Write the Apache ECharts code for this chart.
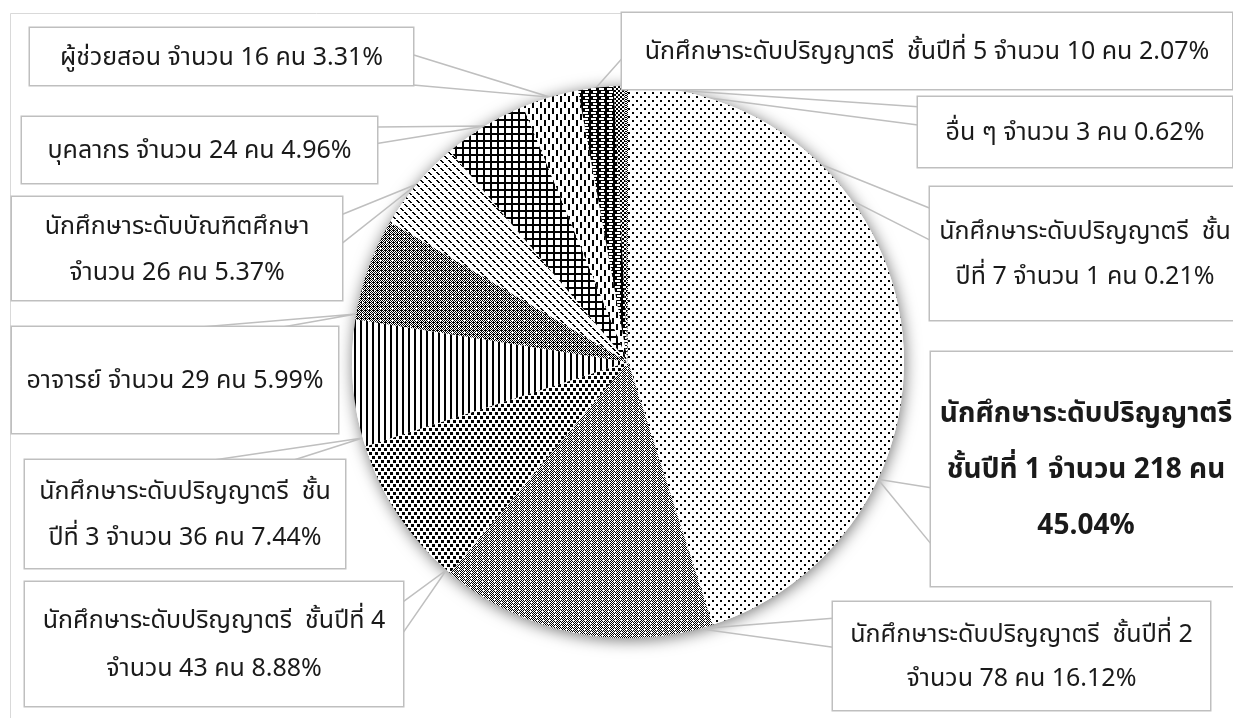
<!DOCTYPE html>
<html><head><meta charset="utf-8">
<script src="https://cdn.jsdelivr.net/npm/echarts@6/dist/echarts.min.js"></script>
<style>html,body{margin:0;padding:0;background:#fff}#c{width:1233px;height:718px}</style>
</head><body><div id="c"></div>
<script>
// ---- data (clockwise from 12 o'clock) ----
const categories = [
  'นักศึกษาระดับปริญญาตรี  ชั้นปีที่ 1',
  'นักศึกษาระดับปริญญาตรี  ชั้นปีที่ 2',
  'นักศึกษาระดับปริญญาตรี  ชั้นปีที่ 4',
  'นักศึกษาระดับปริญญาตรี  ชั้นปีที่ 3',
  'อาจารย์',
  'นักศึกษาระดับบัณฑิตศึกษา',
  'บุคลากร',
  'ผู้ช่วยสอน',
  'นักศึกษาระดับปริญญาตรี  ชั้นปีที่ 5',
  'อื่น ๆ',
  'นักศึกษาระดับปริญญาตรี  ชั้นปีที่ 7'
];
const counts = [218, 78, 43, 36, 29, 26, 24, 16, 10, 3, 1];

// ---- layout (positions / styles only) ----
const PIE_CENTER = [628, 362];
const PIE_R = 276;
const TEXT_SHIFT = 3;
const FONT = "'Noto Sans Thai','Leelawadee UI',Tahoma,'Noto Sans','DejaVu Sans',sans-serif";
const labelBoxes = [
  {box:[931,352,310,234], side:'left',  base:[0.58,0.82], apex:0.71, lh:56, fs:28, bold:true, breaks:['ชั้นปีที่','$pct']},
  {box:[833,602,377,108], side:'left',  base:[0.15,0.42], apex:0.05, lh:44, fs:25, breaks:['จำนวน']},
  {box:[25,582,378,124],  side:'right', base:[0.16,0.41], apex:0.03, lh:48, fs:25, breaks:['จำนวน']},
  {box:[25,460,320,108],  side:'top',   base:[0.59,0.84], apex:0.07, lh:46, fs:25, breaks:['ปีที่']},
  {box:[12,327,326,106],  side:'top',   base:[0.58,0.83], apex:0.05, lh:45, fs:25, breaks:[]},
  {box:[12,197,330,103],  side:'right', base:[0.17,0.45], apex:0.5,  lh:46, fs:25, breaks:['จำนวน']},
  {box:[22,117,355,66],   side:'right', base:[0.15,0.40], apex:0.5,  lh:42, fs:25, breaks:[]},
  {box:[30,28,383,57],    side:'right', base:[0.47,1.00], apex:0.5,  lh:42, fs:25, breaks:[]},
  {box:[622,13,610,76],   side:'left',  base:[0.60,0.98], apex:0.5,  lh:42, fs:25, breaks:[]},
  {box:[918,97,314,70],   side:'left',  base:[0.14,0.40], apex:0.5,  lh:42, fs:25, breaks:[]},
  {box:[930,187,310,133], side:'left',  base:[0.16,0.40], apex:0.5,  lh:45, fs:25, breaks:['ปีที่']}
];

// ---- patterns ----
function pat(rows){
  const h = rows.length, w = rows[0].length;
  const c = document.createElement('canvas'); c.width = w; c.height = h;
  const g = c.getContext('2d');
  g.fillStyle = '#fff'; g.fillRect(0,0,w,h); g.fillStyle = '#000';
  for (let y=0;y<h;y++) for (let x=0;x<w;x++) if (rows[y][x]==='X') g.fillRect(x,y,1,1);
  return {image:c, repeat:'repeat'};
}
function gridPattern(n, fn){
  const rows = [];
  for (let y=0;y<n;y++){ let r=''; for (let x=0;x<n;x++) r += fn(x,y) ? 'X' : '.'; rows.push(r); }
  return pat(rows);
}
const patterns = [
  pat(['XX......','XX......','........','........','....XX..','....XX..','........','........']),
  pat(['.X.X.X','X.X.X.','.X...X','X.X.X.','.X.X.X','X...X.']),
  pat(['XXX...','XXX...','XXX...','......','...XXX','...XXX','...XXX','......']),
  pat(['XX....']),
  gridPattern(12, (x,y)=>{
    if ((x===2&&y===2)||(x===8&&y===8)) return false;
    return (x+y)%2===0 || (x%4===1 && y%4===2);
  }),
  pat(['XX......','.XX.....','..XX....','........','....XX..','.....XX.','......XX','........']),
  pat(['XXXXXXX','XXXXXXX','XX.....','XX.....','XX.....','XX.....','XX.....']),
  pat(['XX......','XX......','XX......','XX......','XX......','XX......','....XX..','....XX..','....XX..','....XX..','....XX..','....XX..']),
  pat(['XXXXXXXX','X....XXX','X....XXX','XXXXXXXX','....XXX.','....XXX.']),
  pat(['XX..','XX..','..XX','..XX']),
  pat(['X..X','.XX.','X..X','.XX.'])
];

const total = counts.reduce((a,b)=>a+b,0);
const cum = []; counts.reduce((a,b,i)=>{cum[i]=a; return a+b;},0);

function labelText(i, pct){
  const L = labelBoxes[i];
  const pctStr = pct.toFixed(2) + '%';
  const full = categories[i] + ' จำนวน ' + counts[i] + ' คน ' + pctStr;
  const lines = [];
  let rest = full;
  L.breaks.forEach(b=>{
    const key = b === '$pct' ? pctStr : b;
    const k = rest.indexOf(key);
    if (k > 0){ lines.push(rest.slice(0,k).trim()); rest = rest.slice(k); }
  });
  lines.push(rest.trim());
  return lines.join('\n');
}

const data = counts.map((v,i)=>{
  const L = labelBoxes[i];
  const n = L.breaks.length + 1;
  const pt = (L.box[3] - n*L.lh)/2 + TEXT_SHIFT;
  return {
    name: categories[i], value: v,
    itemStyle: {color: patterns[i]},
    label: {
      width: L.box[2], padding:[pt,0,L.box[3]-n*L.lh-pt,0],
      lineHeight: L.lh, fontSize: L.fs, fontWeight: L.bold ? 'bold' : 'normal'
    }
  };
});

function polar(aDeg, r){
  const a = aDeg*Math.PI/180;
  return [PIE_CENTER[0] + r*Math.sin(a), PIE_CENTER[1] - r*Math.cos(a)];
}

const chart = echarts.init(document.getElementById('c'), null, {renderer:'canvas'});
chart.setOption({
  animation: false,
  backgroundColor: '#fff',
  graphic: [{type:'rect', silent:true, z:-10,
    shape:{x:10.5, y:13.5, width:1400, height:900},
    style:{fill:'none', stroke:'#d9d9d9', lineWidth:1}}],
  series: [
    { // soft shadow under the pie
      type:'pie', silent:true, z:1, center:PIE_CENTER, radius:PIE_R,
      data:[{value: total, itemStyle:{color:'#fff', shadowBlur:16, shadowColor:'rgba(0,0,0,0.55)', shadowOffsetX:1, shadowOffsetY:2}}],
      label:{show:false}, labelLine:{show:false}
    },
    {
      type:'pie', z:2, center:PIE_CENTER, radius:PIE_R, startAngle:90, clockwise:true,
      avoidLabelOverlap:false, minAngle:0,
      itemStyle:{borderWidth:0},
      data: data,
      label:{
        show:true, position:'outer', alignTo:'none',
        formatter: p => labelText(p.dataIndex, counts[p.dataIndex]/total*100),
        color:'#1a1a1a', fontFamily: FONT,
        backgroundColor:'#fff', borderColor:'#bfbfbf', borderWidth:1.5
      },
      labelLine:{show:true, length:10, length2:10, lineStyle:{color:'#bfbfbf', width:1.5}},
      labelLayout: function(params){
        const i = params.dataIndex;
        const L = labelBoxes[i];
        const [bx,by,bw,bh] = L.box;
        const ang = (cum[i] + L.apex*counts[i]) / total * 360;
        const apex = polar(ang, PIE_R);
        let A, B;
        if (L.side==='left'){ A=[bx, by+bh*L.base[0]]; B=[bx, by+bh*L.base[1]]; }
        else if (L.side==='right'){ A=[bx+bw, by+bh*L.base[0]]; B=[bx+bw, by+bh*L.base[1]]; }
        else if (L.side==='top'){ A=[bx+bw*L.base[0], by]; B=[bx+bw*L.base[1], by]; }
        else { A=[bx+bw*L.base[0], by+bh]; B=[bx+bw*L.base[1], by+bh]; }
        return {x: bx + bw/2, y: by, align:'center', verticalAlign:'top', labelLinePoints:[A, apex, B]};
      }
    }
  ]
});
</script></body></html>
